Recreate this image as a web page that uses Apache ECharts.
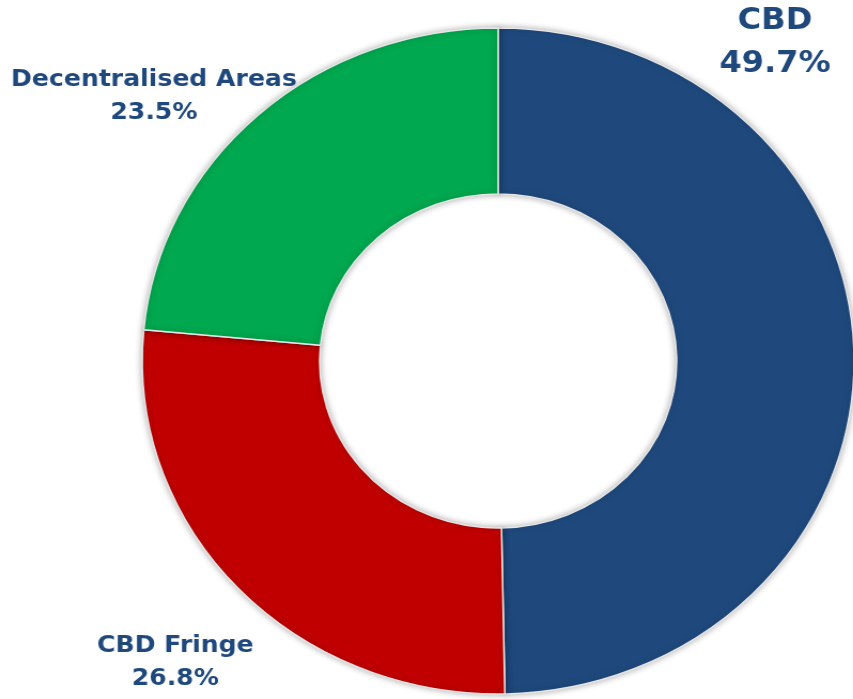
<!DOCTYPE html>
<html>
<head>
<meta charset="utf-8">
<script src="https://cdn.jsdelivr.net/npm/echarts@6/dist/echarts.min.js"></script>
<style>
html,body{margin:0;padding:0;background:#fff;overflow:hidden;}
#wrap{width:853px;height:699px;overflow:hidden;}
#chart{width:798px;height:699px;transform:scaleX(1.069);transform-origin:0 0;}
</style>
</head>
<body>
<div id="wrap"><div id="chart"></div></div>
<script>
const categories = ['CBD', 'CBD Fringe', 'Decentralised Areas'];
const shares = [49.7, 26.8, 23.5];
const colors = ['#1F497D', '#C00000', '#00A84F'];
const labelSizes = [30, 23.5, 23.5];
const labelLineHeights = [43, 33, 33];
const labelSpots = [[725, 43], [164, 662], [144, 96]];

const chart = echarts.init(document.getElementById('chart'), null, {renderer: 'canvas'});
const data = categories.map((name, i) => ({
  name: name,
  value: shares[i],
  itemStyle: {color: colors[i]},
  label: {fontSize: labelSizes[i], lineHeight: labelLineHeights[i]}
}));
chart.setOption({
  animation: false,
  backgroundColor: '#ffffff',
  series: [{
    type: 'pie',
    center: [466, 361],
    radius: [167, 333],
    startAngle: 90,
    clockwise: true,
    avoidLabelOverlap: false,
    itemStyle: {
      borderColor: '#e6e6e6',
      borderWidth: 1.5,
      shadowBlur: 6,
      shadowColor: 'rgba(0,0,0,0.3)'
    },
    label: {
      show: true,
      position: 'outside',
      color: '#1F497D',
      fontFamily: 'DejaVu Sans',
      fontWeight: 'bold',
      align: 'center',
      formatter: p => p.name + '\n' + p.value.toFixed(1) + '%'
    },
    labelLine: {show: false},
    labelLayout: function (params) {
      const s = labelSpots[params.dataIndex];
      return {x: s[0], y: s[1], align: 'center', verticalAlign: 'middle'};
    },
    data: data
  }]
});
</script>
</body>
</html>
